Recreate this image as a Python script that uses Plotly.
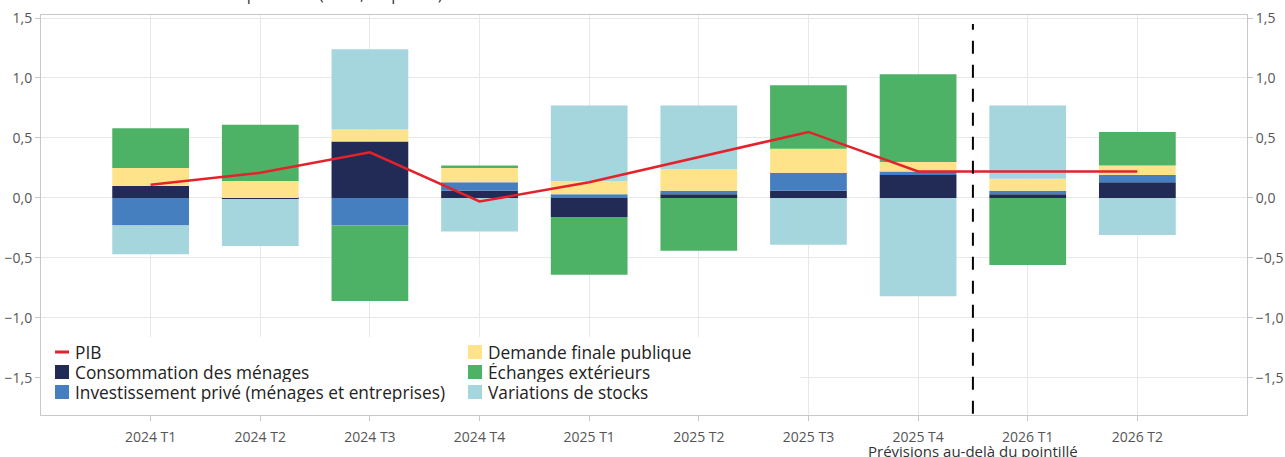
import plotly.graph_objects as go

categories = ["2024 T1", "2024 T2", "2024 T3", "2024 T4", "2025 T1",
              "2025 T2", "2025 T3", "2025 T4", "2026 T1", "2026 T2"]
conso = [0.10, -0.01, 0.47, 0.06, -0.16, 0.03, 0.06, 0.19, 0.03, 0.13]
invest = [-0.23, 0.00, -0.23, 0.07, 0.03, 0.03, 0.15, 0.03, 0.03, 0.06]
public = [0.15, 0.14, 0.10, 0.12, 0.11, 0.18, 0.20, 0.08, 0.10, 0.08]
echanges = [0.33, 0.47, -0.63, 0.02, -0.48, -0.44, 0.53, 0.73, -0.56, 0.28]
stocks = [-0.24, -0.39, 0.67, -0.28, 0.63, 0.53, -0.39, -0.82, 0.61, -0.31]
pib = [0.11, 0.21, 0.38, -0.03, 0.13, 0.34, 0.55, 0.22, 0.22, 0.22]

y_ticks = [-1.5, -1.0, -0.5, 0.0, 0.5, 1.0, 1.5]
y_range = [-1.81, 1.525]
forecast_split = 7.5

C_NAVY = "#222b55"
C_BLUE = "#467fc0"
C_YEL = "#fee38b"
C_GREEN = "#4db266"
C_LBLUE = "#a6d6dd"
C_RED = "#e3222b"

FONT = "Open Sans"
W, H = 1285, 457
ML, MR, MT, MB = 41, 38, 15, 42
PW, PH = W - ML - MR, H - MT - MB
x_idx = list(range(len(categories)))


def px_x(px):
    return (px - ML) / PW


def px_y(py):
    return 1 - (py - MT) / PH


fig = go.Figure()

series = [
    ("Consommation des ménages", conso, C_NAVY),
    ("Investissement privé (ménages et entreprises)", invest, C_BLUE),
    ("Demande finale publique", public, C_YEL),
    ("Échanges extérieurs", echanges, C_GREEN),
    ("Variations de stocks", stocks, C_LBLUE),
]

for name, vals, col in series:
    fig.add_trace(go.Bar(x=x_idx, y=vals, name=name, marker_color=col,
                         marker_line_width=0, width=0.7))

fig.add_trace(go.Scatter(x=x_idx, y=pib, mode="lines", name="PIB",
                         line=dict(color=C_RED, width=2.5)))

# invisible trace to anchor right axis
fig.add_trace(go.Scatter(x=[None], y=[None], yaxis="y2", showlegend=False, hoverinfo="skip"))

# white box behind legend (hides grid)
fig.add_shape(type="rect", xref="x", yref="y", x0=-1, x1=5.93, y0=y_range[0], y1=-1.16,
              fillcolor="white", line_width=0, layer="between")

# forecast divider
fig.add_shape(type="line", xref="x", yref="y", x0=forecast_split, x1=forecast_split,
              y0=-1.8, y1=1.45, line=dict(color="black", width=2, dash="13px,11px"),
              layer="above")

# manual legend (two columns)
legend_items = [
    ("PIB", C_RED, "line", 55, 352),
    ("Consommation des ménages", C_NAVY, "box", 55, 372),
    ("Investissement privé (ménages et entreprises)", C_BLUE, "box", 55, 392),
    ("Demande finale publique", C_YEL, "box", 468, 352),
    ("Échanges extérieurs", C_GREEN, "box", 468, 372),
    ("Variations de stocks", C_LBLUE, "box", 468, 392),
]
for label, col, kind, sx, sy in legend_items:
    if kind == "line":
        fig.add_shape(type="line", xref="paper", yref="paper",
                      x0=px_x(sx), x1=px_x(sx + 14), y0=px_y(sy), y1=px_y(sy),
                      line=dict(color=col, width=3), layer="above")
    else:
        fig.add_shape(type="rect", xref="paper", yref="paper",
                      x0=px_x(sx), x1=px_x(sx + 14), y0=px_y(sy + 7), y1=px_y(sy - 7),
                      fillcolor=col, line_width=0, layer="above")
    fig.add_annotation(text=label, xref="paper", yref="paper",
                       x=px_x(sx + 19), y=px_y(sy), xanchor="left", yanchor="middle",
                       showarrow=False, height=19, valign="middle", borderpad=0,
                       font=dict(family=FONT, size=17.3, color="#222222"))

fig.add_annotation(text="Prévisions au-delà du pointillé", xref="x", yref="paper",
                   x=forecast_split, y=px_y(451), yanchor="middle", showarrow=False,
                   font=dict(family=FONT, size=15, color="#333333"))

fig.add_annotation(text="Croissance du PIB et contributions des composantes (en %, en points)",
                   xref="paper", yref="paper", x=px_x(445), y=px_y(7),
                   xanchor="right", yanchor="bottom", showarrow=False,
                   font=dict(family=FONT, size=16, color="#333333"))

axis_common = dict(showline=True, linecolor="#c8c8c8", linewidth=1,
                   gridcolor="#e8e8e8", gridwidth=1,
                   tickfont=dict(family=FONT, size=14, color="#555555"),
                   ticks="outside", tickcolor="#c8c8c8", ticklen=5)

fig.update_layout(
    width=W, height=H,
    margin=dict(l=ML, r=MR, t=MT, b=MB, autoexpand=False),
    paper_bgcolor="white", plot_bgcolor="white",
    barmode="relative",
    separators=", ",
    showlegend=False,
    font=dict(family=FONT, color="#222222"),
    xaxis=dict(**axis_common, tickmode="array", tickvals=x_idx, ticktext=categories,
               range=[-1, 10], mirror=True, zeroline=False, showgrid=True,
               tickangle=0, ticklabelstandoff=4),
    yaxis=dict(**axis_common, range=y_range, tickvals=y_ticks, tickformat=".1f",
               zeroline=False, mirror=True),
    yaxis2=dict(**axis_common, range=y_range, tickvals=y_ticks, tickformat=".1f",
                overlaying="y", side="right", showgrid=False, zeroline=False,
                matches="y"),
)

fig.write_html("out.html", config={"displayModeBar": False},
               post_script="document.body.style.margin='0px';document.body.style.overflow='hidden';")
